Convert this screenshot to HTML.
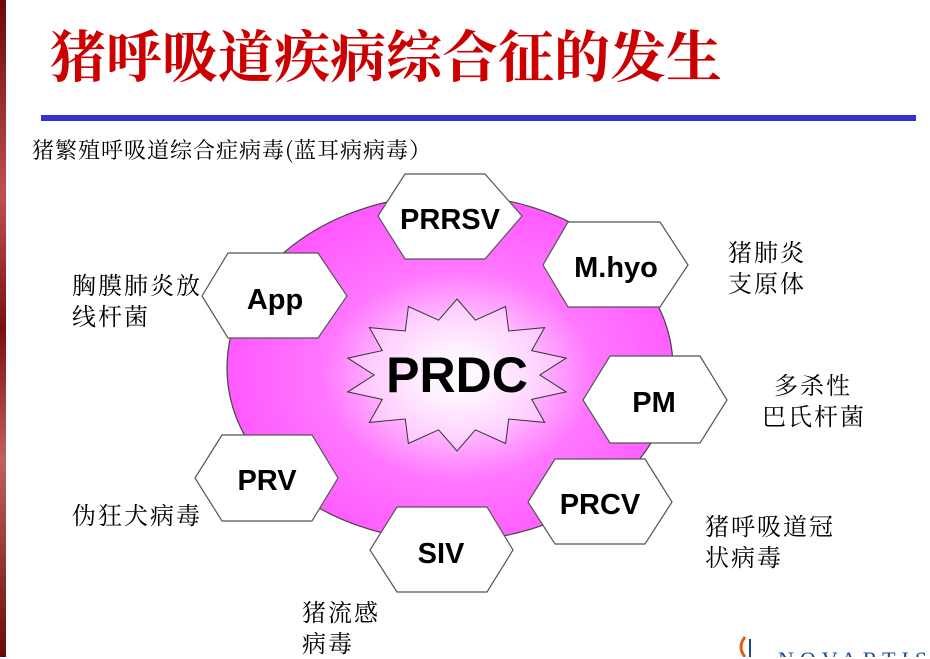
<!DOCTYPE html>
<html><head><meta charset="utf-8"><style>
body{margin:0;width:930px;height:657px;background:#fff;position:relative;overflow:hidden;font-family:"Liberation Sans","Noto Sans CJK SC",sans-serif}
.t{position:absolute;color:#000;font-size:24px;line-height:31px;letter-spacing:2px;font-family:"Noto Serif CJK SC","Noto Sans CJK SC",serif;white-space:nowrap}
</style></head><body>
<div style="position:absolute;left:0;top:0;width:6px;height:657px;background:linear-gradient(#6b0a0a,#c05050 30%,#7a1010 50%,#c06060 70%,#6b0a0a)"></div>
<div style="position:absolute;left:50px;top:20px;font-size:56px;line-height:68px;color:#cc0000;font-weight:bold;font-family:'Noto Serif CJK SC',serif;letter-spacing:0px;white-space:nowrap">猪呼吸道疾病综合征的发生</div>
<div style="position:absolute;left:41px;top:115px;width:875px;height:6px;background:#3333cc"></div>
<div class="t" style="left:32px;top:134px;font-size:22px;letter-spacing:1px">猪繁殖呼吸道综合症病毒(蓝耳病病毒）</div>
<div class="t" style="left:72px;top:268px">胸膜肺炎放<br>线杆菌</div>
<div class="t" style="left:728px;top:235px">猪肺炎<br>支原体</div>
<div class="t" style="left:774px;top:368px">多杀性<br></div>
<div class="t" style="left:762px;top:399px">巴氏杆菌</div>
<div class="t" style="left:72px;top:498px">伪狂犬病毒</div>
<div class="t" style="left:705px;top:509px">猪呼吸道冠<br>状病毒</div>
<div class="t" style="left:302px;top:595px">猪流感<br>病毒</div>
<svg width="930" height="657" style="position:absolute;left:0;top:0">
<defs><radialGradient id="g" cx="0.52" cy="0.52" r="0.55"><stop offset="0" stop-color="#ffffff"/><stop offset="0.15" stop-color="#ffe6ff"/><stop offset="0.55" stop-color="#ff77ff"/><stop offset="1" stop-color="#ff55ff"/></radialGradient></defs>
<ellipse cx="450" cy="368" rx="223" ry="173" fill="url(#g)" stroke="#444" stroke-width="1.2"/>
<polygon id="star" fill="#fff" fill-opacity="0.4" stroke="#333" stroke-width="1" points=""/>
<g fill="#fff" stroke="#555" stroke-width="1.2">
<polygon points="405,174 485,174 522,216 485,259 405,259 378,216"/>
<polygon points="568,222 660,222 688,265 660,307 568,307 543,265"/>
<polygon points="228,253 318,253 347,296 318,338 228,338 202,296"/>
<polygon points="610,356 700,356 727,400 700,443 610,443 583,400"/>
<polygon points="222,435 312,435 338,478 312,521 222,521 195,478"/>
<polygon points="555,459 645,459 672,502 645,544 555,544 528,502"/>
<polygon points="397,507 487,507 513,550 487,592 397,592 370,550"/>
</g>
<g font-family="Liberation Sans" font-weight="bold" font-size="29" text-anchor="middle" fill="#000">
<text x="450" y="229">PRRSV</text>
<text x="616" y="277">M.hyo</text>
<text x="275" y="309">App</text>
<text x="654" y="412">PM</text>
<text x="267" y="490">PRV</text>
<text x="600" y="514">PRCV</text>
<text x="441" y="563">SIV</text>
<text x="457" y="392" font-size="50">PRDC</text>
</g>
<text x="778" y="667" font-family="Liberation Serif" font-size="22" fill="#1a4a9a" letter-spacing="6">NOVARTIS</text>
<path d="M745,657 q-8,-10 0,-20" stroke="#e06010" stroke-width="3" fill="none"/>
<path d="M750,657 v-18" stroke="#1a4a9a" stroke-width="2"/>
</svg>
<script>
var p=[],cx=457,cy=375,n=14;
for(var i=0;i<n*2;i++){var a=Math.PI*i/n-Math.PI/2,r=i%2?0.74:1;p.push((cx+Math.cos(a)*112*r).toFixed(1)+","+(cy+Math.sin(a)*76*r).toFixed(1));}
document.getElementById('star').setAttribute('points',p.join(' '));
</script>
</body></html>
